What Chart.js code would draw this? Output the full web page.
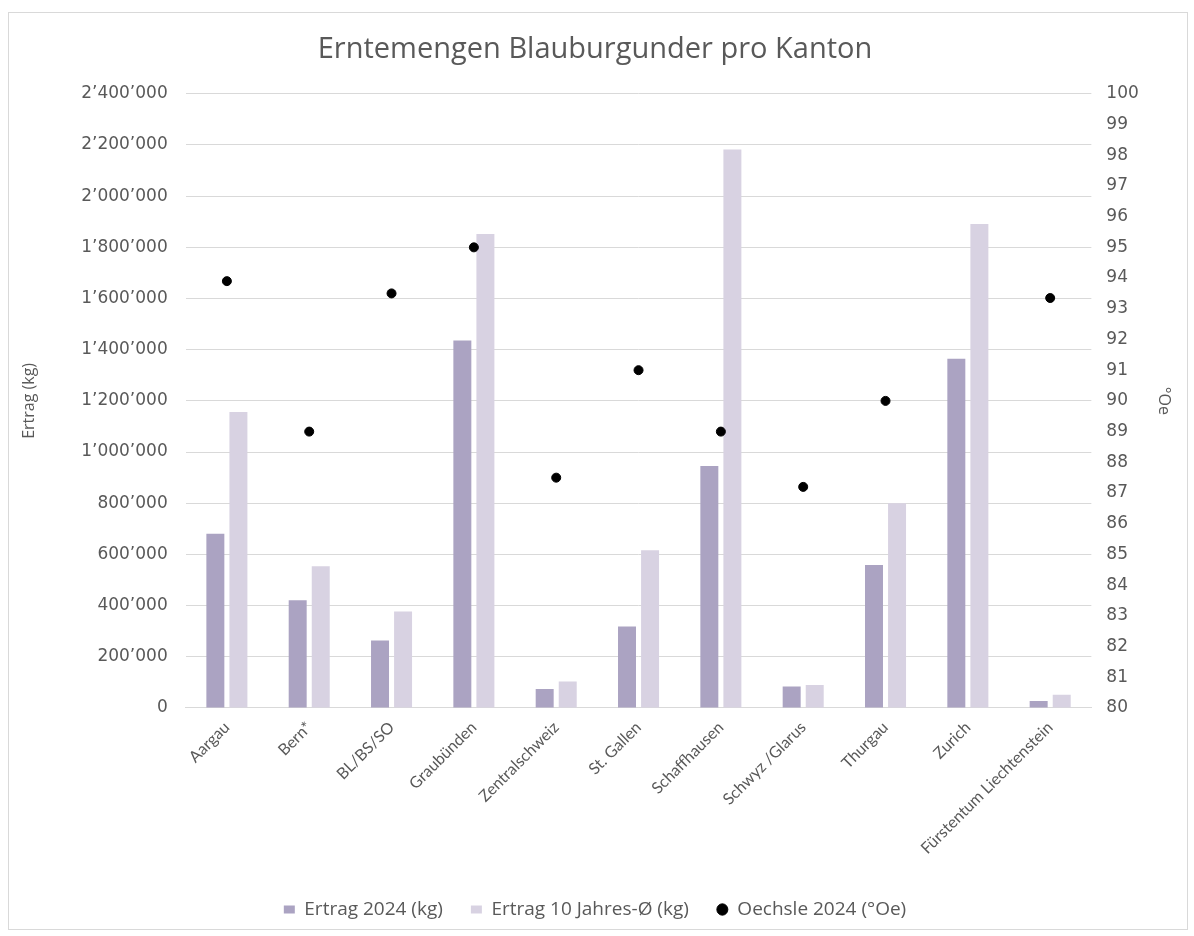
<!DOCTYPE html>
<html lang="de">
  <head>
    <meta charset="UTF-8" />
    <title>Erntemengen Blauburgunder pro Kanton</title>
    <style>
      body {
        margin: 0;
        background: #fff;
      }
      .frame {
        position: absolute;
        left: 8px;
        top: 12px;
        width: 1178px;
        height: 916px;
        border: 1px solid #d9d9d9;
        box-sizing: content-box;
      }
      .frame-item {
        width: 1178px;
        height: 916px;
      }
    </style>
  </head>
  <body>
    <div class="frame">
      <div class="frame-item">
        <canvas id="mychart"></canvas>
      </div>
    </div>

    <script src="https://cdn.jsdelivr.net/npm/chart.js@4/dist/chart.umd.min.js"></script>
    <script>
      // Kantone
      const kantone = [
        "Aargau",
        "Bern*",
        "BL/BS/SO",
        "Graubünden",
        "Zentralschweiz",
        "St. Gallen",
        "Schaffhausen",
        "Schwyz /Glarus",
        "Thurgau",
        "Zurich",
        "Fürstentum Liechtenstein",
      ];

      // Ertrag 2024 (kg)
      const ertrag2024 = [
        681000, 421000, 264000, 1436000, 74000, 318000, 946000, 84000, 559000,
        1365000, 27000,
      ];

      // Ertrag 10 Jahres-Ø (kg)
      const ertrag10J = [
        1157000, 554000, 377000, 1852000, 103000, 616000, 2182000, 90000,
        800000, 1891000, 52000,
      ];

      // Oechsle 2024 (°Oe), Zurich ohne Wert
      const oechsle = [
        93.9, 89.0, 93.5, 95.0, 87.5, 91.0, 89.0, 87.2, 90.0, null, 93.35,
      ];

      const textColor = "#595959";
      const gridColor = "#d9d9d9";

      // Tausender mit Apostroph
      function fmt(v) {
        return String(v).replace(/\B(?=(\d{3})+(?!\d))/g, "\u2019");
      }

      const mychart = document.getElementById("mychart");

      new Chart(mychart, {
        type: "bar",
        data: {
          labels: kantone,
          datasets: [
            {
              label: "Ertrag 2024 (kg)",
              data: ertrag2024,
              backgroundColor: "#aba3c2",
              yAxisID: "y",
              categoryPercentage: 0.56,
              barPercentage: 0.78,
              pointStyle: "rect",
              order: 2,
            },
            {
              label: "Ertrag 10 Jahres-Ø (kg)",
              data: ertrag10J,
              backgroundColor: "#d8d2e2",
              yAxisID: "y",
              categoryPercentage: 0.56,
              barPercentage: 0.78,
              pointStyle: "rect",
              order: 3,
            },
            {
              type: "line",
              label: "Oechsle 2024 (°Oe)",
              data: oechsle,
              yAxisID: "y1",
              showLine: false,
              pointStyle: "circle",
              pointRadius: 4.5,
              pointBackgroundColor: "#000",
              pointBorderColor: "#000",
              backgroundColor: "#000",
              borderColor: "#000",
              order: 1,
            },
          ],
        },
        options: {
          responsive: true,
          maintainAspectRatio: false,
          animation: false,
          layout: {
            padding: { left: 6, right: 12, top: 4, bottom: 0 },
          },
          plugins: {
            title: {
              display: true,
              text: "Erntemengen Blauburgunder pro Kanton",
              color: textColor,
              font: { family: "Open Sans", size: 29, weight: "normal" },
              padding: { top: 15, bottom: 27 },
            },
            legend: {
              position: "bottom",
              labels: {
                usePointStyle: true,
                pointStyleWidth: 11,
                boxHeight: 8,
                color: textColor,
                font: { family: "Open Sans", size: 19 },
                padding: 28,
                sort: (a, b) => a.datasetIndex - b.datasetIndex,
              },
            },
            tooltip: { enabled: false },
          },
          scales: {
            x: {
              grid: { display: false },
              border: { color: gridColor },
              ticks: {
                color: textColor,
                font: { family: "Lato", size: 16 },
                minRotation: 45,
                maxRotation: 45,
                padding: 2,
              },
              afterFit: (scale) => {
                scale.height += 12;
              },
            },
            y: {
              position: "left",
              min: 0,
              max: 2400000,
              grid: { color: gridColor, drawTicks: false },
              border: { display: false },
              ticks: {
                stepSize: 200000,
                color: textColor,
                font: { family: "DejaVu Sans", size: 17 },
                padding: 18,
                callback: (v) => fmt(v),
              },
              title: {
                display: true,
                text: "Ertrag (kg)",
                color: textColor,
                font: { family: "Open Sans", size: 16 },
                padding: { top: 5, bottom: 24 },
              },
            },
            y1: {
              position: "right",
              min: 80,
              max: 100,
              grid: { drawOnChartArea: false, drawTicks: false },
              border: { display: false },
              ticks: {
                stepSize: 1,
                color: textColor,
                font: { family: "DejaVu Sans", size: 17 },
                padding: 15,
              },
              title: {
                display: true,
                text: "°Oe",
                color: textColor,
                font: { family: "Open Sans", size: 16 },
                padding: { top: 2, bottom: 0 },
              },
            },
          },
        },
      });
    </script>
  </body>
</html>
